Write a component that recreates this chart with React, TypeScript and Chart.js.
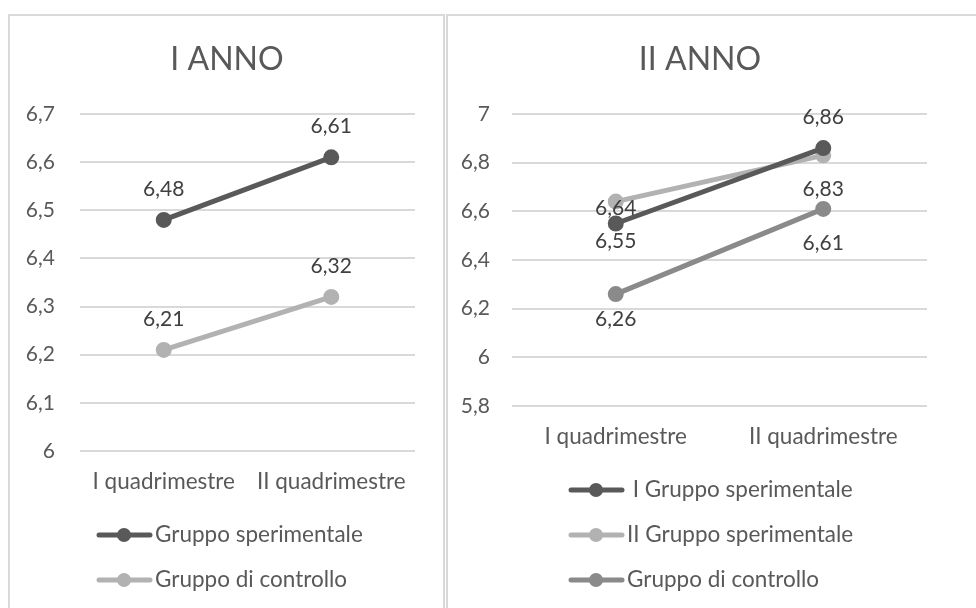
import React, { useEffect, useRef } from "react";
import { Chart, registerables } from "chart.js";

Chart.register(...registerables);

const categories = ["I quadrimestre", "II quadrimestre"];

// I ANNO
const annoIName = "I ANNO";
const annoISperimentale = [6.48, 6.61];
const annoIControllo = [6.21, 6.32];
const annoISeriesNames = ["Gruppo sperimentale", "Gruppo di controllo"];
const annoIMin = 6;
const annoIMax = 6.7;
const annoIStep = 0.1;

// II ANNO
const annoIIName = "II ANNO";
const annoIISperimentaleI = [6.55, 6.86];
const annoIISperimentaleII = [6.64, 6.83];
const annoIIControllo = [6.26, 6.61];
const annoIISeriesNames = [" I Gruppo sperimentale", "II Gruppo sperimentale", "Gruppo di controllo"];
const annoIIMin = 5.8;
const annoIIMax = 7;
const annoIIStep = 0.2;

const FONT = "Lato, 'Open Sans', sans-serif";
const TEXT = "#595959";
const LABEL = "#404040";
const GRID = "#d9d9d9";
const DARK = "#595959";
const LIGHT = "#b2b2b2";
const MID = "#8a8a8a";

const fmt = (v: number) => (Math.round(v * 100) / 100).toString().replace(".", ",");

type Cfg = {
  title: string;
  titleX: number;
  series: { name: string; data: number[]; color: string; labelDy: number[] }[];
  min: number;
  max: number;
  step: number;
  yWidth: number;
  yPad: number;
  padding: { top: number; right: number; bottom: number; left: number };
  legendX: number;
  legendYs: number[];
  width: number;
  height: number;
};

function LineChart({ cfg, style }: { cfg: Cfg; style: React.CSSProperties }) {
  const ref = useRef<HTMLCanvasElement | null>(null);
  useEffect(() => {
    if (!ref.current) return;
    const overlay = {
      id: "overlay",
      afterDatasetsDraw(chart: any) {
        const ctx = chart.ctx;
        ctx.save();
        // data labels
        ctx.font = `21px ${FONT}`;
        ctx.fillStyle = LABEL;
        ctx.textAlign = "center";
        ctx.textBaseline = "middle";
        chart.data.datasets.forEach((ds: any, di: number) => {
          const meta = chart.getDatasetMeta(di);
          meta.data.forEach((el: any, i: number) => {
            ctx.fillText(fmt(ds.data[i]), el.x, el.y + cfg.series[di].labelDy[i]);
          });
        });
        // title
        ctx.font = `32px ${FONT}`;
        ctx.fillStyle = TEXT;
        ctx.fillText(cfg.title, cfg.titleX, 45);
        // legend
        cfg.series.forEach((s, i) => {
          const y = cfg.legendYs[i];
          const x0 = cfg.legendX;
          ctx.strokeStyle = s.color;
          ctx.lineWidth = 5;
          ctx.lineCap = "round";
          ctx.beginPath();
          ctx.moveTo(x0 + 2, y);
          ctx.lineTo(x0 + 53, y);
          ctx.stroke();
          ctx.fillStyle = s.color;
          ctx.beginPath();
          ctx.arc(x0 + 27, y, 7, 0, Math.PI * 2);
          ctx.fill();
          ctx.font = `22.5px ${FONT}`;
          ctx.fillStyle = TEXT;
          ctx.textAlign = "left";
          ctx.fillText(s.name, x0 + 58, y);
        });
        ctx.restore();
      },
    };
    const chart = new Chart(ref.current, {
      type: "line",
      data: {
        labels: categories,
        datasets: cfg.series.map((s) => ({
          label: s.name,
          data: s.data,
          borderColor: s.color,
          backgroundColor: s.color,
          borderWidth: 5,
          borderCapStyle: "round",
          pointRadius: 7,
          pointBorderWidth: 2,
          pointBackgroundColor: s.color,
          pointBorderColor: s.color,
          tension: 0,
        })),
      },
      options: {
        animation: false,
        responsive: false,
        layout: { padding: cfg.padding },
        plugins: {
          legend: { display: false },
          title: { display: false },
          tooltip: { enabled: false },
        },
        scales: {
          x: {
            offset: true,
            grid: { display: false, drawTicks: false },
            border: { display: false },
            ticks: { color: TEXT, font: { family: FONT, size: 22.5 }, padding: 17 },
            afterFit: (scale: any) => {
              scale.height = 60;
            },
          },
          y: {
            min: cfg.min,
            max: cfg.max,
            grid: { color: GRID, lineWidth: 2, drawTicks: false },
            border: { display: false },
            ticks: {
              stepSize: cfg.step,
              color: TEXT,
              font: { family: FONT, size: 21 },
              padding: cfg.yPad,
              callback: (v: any) => fmt(Number(v)),
            },
            afterFit: (scale: any) => {
              scale.width = cfg.yWidth;
            },
          },
        },
      },
      plugins: [overlay],
    } as any);
    return () => chart.destroy();
  }, [cfg]);
  return <canvas ref={ref} width={cfg.width} height={cfg.height} style={{ position: "absolute", ...style }} />;
}

const leftCfg: Cfg = {
  title: annoIName,
  titleX: 218,
  series: [
    { name: annoISeriesNames[0], data: annoISperimentale, color: DARK, labelDy: [-31, -31] },
    { name: annoISeriesNames[1], data: annoIControllo, color: LIGHT, labelDy: [-31, -31] },
  ],
  min: annoIMin,
  max: annoIMax,
  step: annoIStep,
  yWidth: 71,
  yPad: 25,
  padding: { top: 99, right: 30, bottom: 97, left: 0 },
  legendX: 88,
  legendYs: [520, 565],
  width: 436,
  height: 593,
};

const rightCfg: Cfg = {
  title: annoIIName,
  titleX: 254,
  series: [
    { name: annoIISeriesNames[0], data: annoIISperimentaleI, color: DARK, labelDy: [18, -31] },
    { name: annoIISeriesNames[1], data: annoIISperimentaleII, color: LIGHT, labelDy: [7, 34] },
    { name: annoIISeriesNames[2], data: annoIIControllo, color: MID, labelDy: [25, 34] },
  ],
  min: annoIIMin,
  max: annoIIMax,
  step: annoIIStep,
  yWidth: 66,
  yPad: 22,
  padding: { top: 99, right: 49, bottom: 142, left: 0 },
  legendX: 123,
  legendYs: [475, 520, 565],
  width: 530,
  height: 593,
};

export default function App() {
  return (
    <div style={{ position: "fixed", left: 0, top: 0, width: 976, height: 608, background: "#fff", overflow: "hidden" }}>
      <div style={{ position: "absolute", left: 8, top: 14, width: 437, height: 640, border: `2px solid ${GRID}`, boxSizing: "border-box" }} />
      <div style={{ position: "absolute", left: 446, top: 14, width: 600, height: 640, border: `2px solid ${GRID}`, boxSizing: "border-box" }} />
      <LineChart cfg={leftCfg} style={{ left: 9, top: 15 }} />
      <LineChart cfg={rightCfg} style={{ left: 446, top: 15 }} />
    </div>
  );
}
